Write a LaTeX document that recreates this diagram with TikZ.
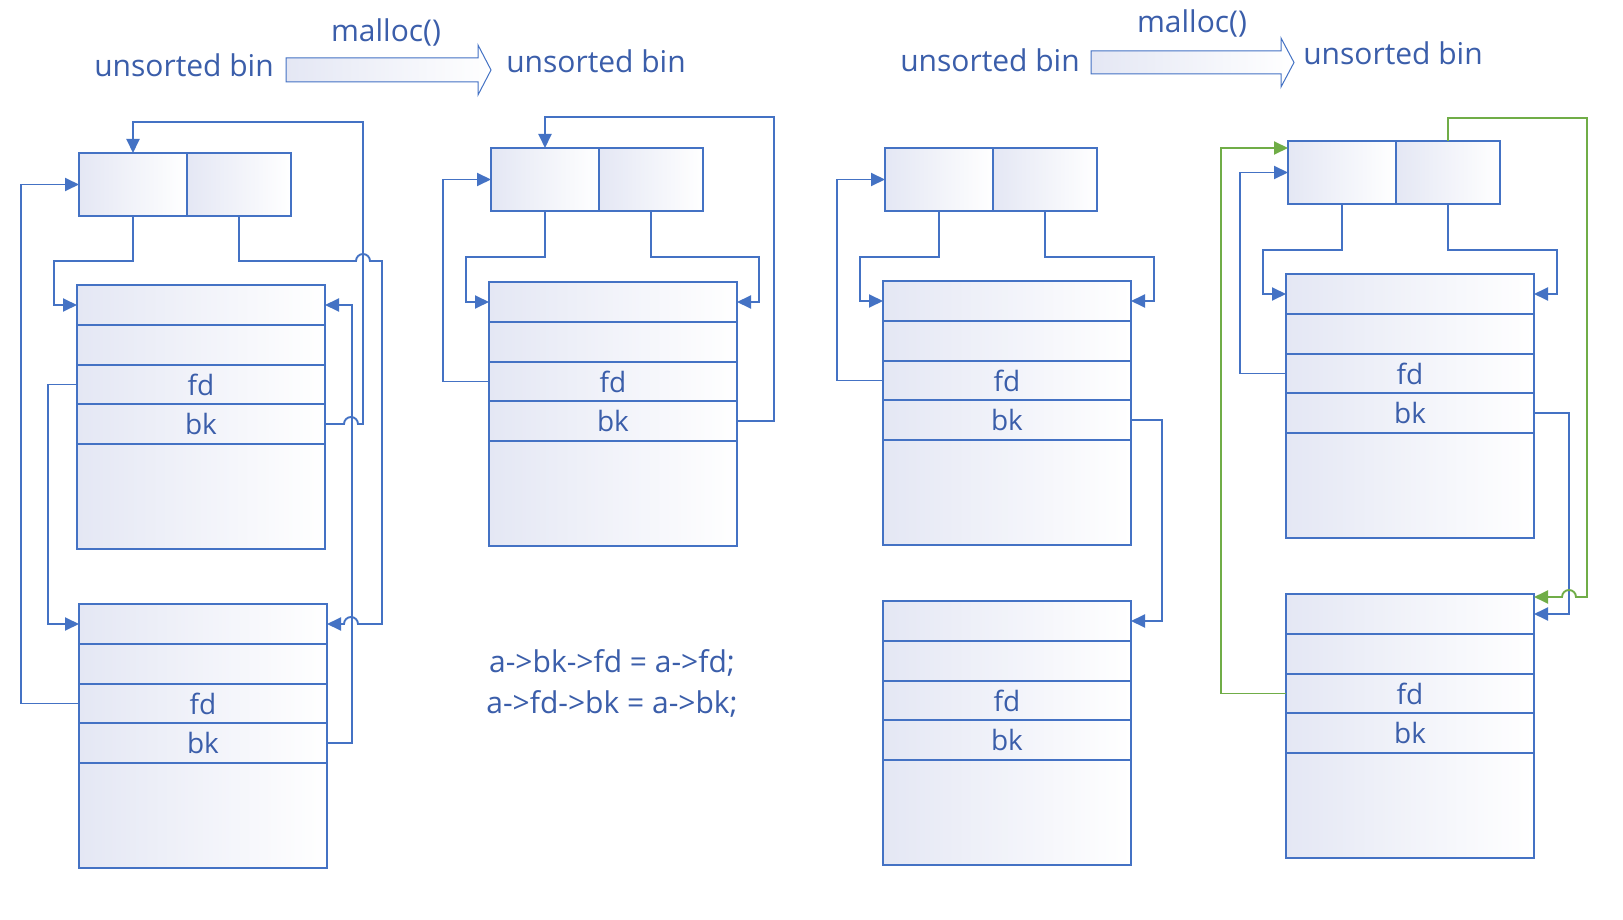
\documentclass[tikz,border=0pt]{standalone}
\usepackage{fontspec}
\setmainfont{Open Sans}
\usetikzlibrary{positioning,arrows.meta}
\definecolor{lineblue}{RGB}{68,114,196}
\definecolor{textblue}{RGB}{59,94,170}
\definecolor{linegreen}{RGB}{112,173,71}
\definecolor{lav}{RGB}{228,231,244}
\newcommand{\chunk}[3]{%
  \node[cell,anchor=north west,minimum height=40pt] (#1-h) at (#2,#3) {};
  \node[cell,below=0pt of #1-h,minimum height=40pt] (#1-s) {};
  \node[cell,below=0pt of #1-s,minimum height=39pt] (#1-fd) {fd};
  \node[cell,below=0pt of #1-fd,minimum height=40pt] (#1-bk) {bk};
  \node[cell,below=0pt of #1-bk,minimum height=105pt] (#1-d) {};}
\newcommand{\binhead}[3]{%
  \node[cell,anchor=north west,minimum width=108pt,minimum height=63pt] (#1l) at (#2,#3) {};
  \node[cell,right=0pt of #1l,minimum width=104pt,minimum height=63pt] (#1r) {};}
\begin{document}
\begin{tikzpicture}[x=1pt,y=-1pt,
    cell/.style={draw=lineblue,line width=1.6pt,left color=lav,right color=white,
      minimum width=248pt,inner sep=0pt,outer sep=0pt,text=textblue,
      font=\fontsize{28}{32}\selectfont},
    lbl/.style={text=textblue,inner sep=0pt,font=\fontsize{30}{36}\selectfont},
    link/.style={draw=lineblue,line width=1.9pt,-{Triangle[length=14pt,width=13pt]}},
    glink/.style={link,draw=linegreen,-{Triangle[length=14pt,width=13pt,color=linegreen]}},
    barrow/.style={draw=lineblue,line width=1pt,left color=lav,right color=white}]
  \fill[white] (0,0) rectangle (1623,920);
  \useasboundingbox (0,0) rectangle (1623,920);

  \node[lbl,anchor=base] (bin1) at (184,77) {unsorted bin};
  \node[lbl,anchor=base] (mal1) at (386,42) {malloc()};
  \node[lbl,anchor=base] (bin2) at (596,73) {unsorted bin};
  \node[lbl,anchor=base] (bin3) at (990,72) {unsorted bin};
  \node[lbl,anchor=base] (mal2) at (1192,33) {malloc()};
  \node[lbl,anchor=base] (bin4) at (1393,65) {unsorted bin};
  \draw[barrow] (286,58) -- (478,58) -- (478,45) -- (491,70) -- (478,95) -- (478,82) -- (286,82) -- cycle;
  \draw[barrow] (1091,51) -- (1281,51) -- (1281,38) -- (1294,62.5) -- (1281,87) -- (1281,74) -- (1091,74) -- cycle;

  \binhead{p1}{79}{153}
  \binhead{p2}{491}{148}
  \binhead{p3}{885}{148}
  \binhead{p4}{1288}{141}
  \chunk{a1}{77}{285}
  \chunk{b1}{79}{604}
  \chunk{a2}{489}{282}
  \chunk{a3}{883}{281}
  \chunk{b3}{883}{601}
  \chunk{a4}{1286}{274}
  \chunk{b4}{1286}{594}

  \node[lbl,anchor=base] (eq1) at (612,672) {a->bk->fd = a->fd;};
  \node[lbl,anchor=base] (eq2) at (612,713) {a->fd->bk = a->bk;};

  \draw[link] (p1l.south) |- (54,261) |- (a1-h.west);
  \draw[link] (p1r.south) |- (356,261) arc[start angle=180,end angle=0,radius=7pt] -- (382,261)
    |- (358,624) arc[start angle=0,end angle=180,radius=7pt] -- (b1-h.east);
  \draw[link] (a1-bk.east) -- (344,424) arc[start angle=180,end angle=0,radius=7pt] -- (363,424)
    -- (363,122) -| (p1l.north);
  \draw[link] (a1-fd.west) -- ++(-29,0) |- (b1-h.west);
  \draw[link] (b1-fd.west) -- ++(-58,0) |- (p1l.west);
  \draw[link] (b1-bk.east) -- ++(25,0) |- (a1-h.east);

  \draw[link] (p2l.south) |- (466,257) |- (a2-h.west);
  \draw[link] (p2r.south) |- (759,257) |- (a2-h.east);
  \draw[link] (a2-bk.east) -| (774,117) -| (p2l.north);
  \draw[link] (a2-fd.west) -- ++(-46,0) |- (p2l.west);

  \draw[link] (p3l.south) |- (860,257) |- (a3-h.west);
  \draw[link] (p3r.south) |- (1154,257) |- (a3-h.east);
  \draw[link] (a3-fd.west) -- ++(-46,0) |- (p3l.west);
  \draw[link] (a3-bk.east) -- ++(31,0) |- (b3-h.east);

  \draw[link] (p4l.south) |- (1263,250) |- (a4-h.west);
  \draw[link] (p4r.south) |- (1557,250) |- (a4-h.east);
  \draw[link] (a4-fd.west) -- ++(-46,0) |- (p4l.west);
  \draw[link] (a4-bk.east) -- ++(35,0) |- (b4-h.east);
  \draw[glink] (p4r.north) |- (1587,118) |- (1576,597) arc[start angle=0,end angle=180,radius=7pt]
    -- ([yshift=-3pt]b4-h.north east);
  \draw[glink] (b4-fd.west) -- ++(-65,0) |- ([yshift=-7pt]p4l.north west);
\end{tikzpicture}
\end{document}
